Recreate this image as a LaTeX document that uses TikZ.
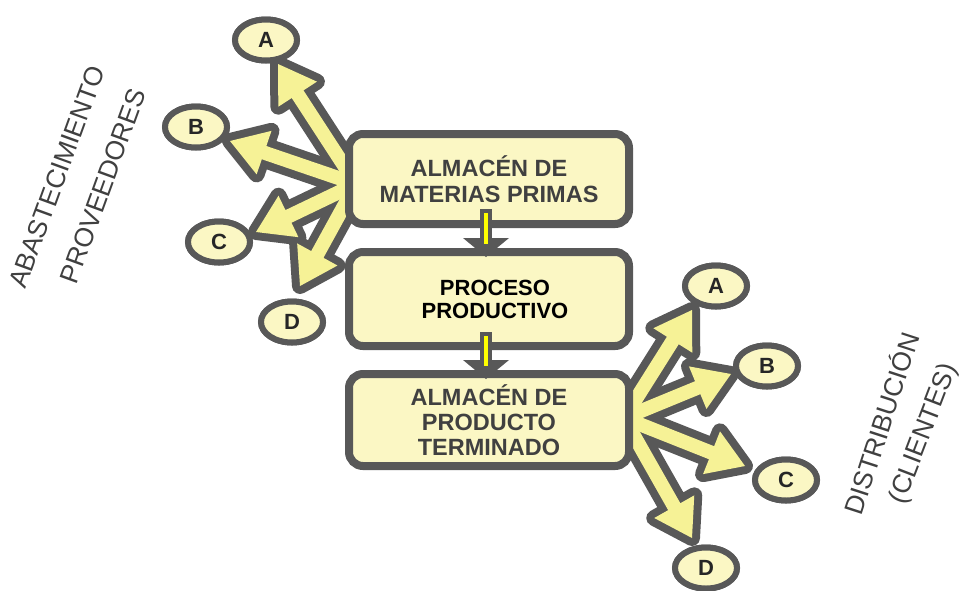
\documentclass[tikz,border=0pt]{standalone}
\usepackage{fontspec}
\setmainfont{Liberation Sans}
\usetikzlibrary{calc,shapes.geometric}
\definecolor{edge}{RGB}{88,88,88}
\definecolor{pale}{RGB}{251,247,196}
\definecolor{armfill}{RGB}{246,242,150}
\definecolor{txtgray}{RGB}{64,64,64}
\definecolor{brightyel}{RGB}{255,255,0}
\newcommand\sw{7pt}
\newcommand\hw{23pt}
\newcommand\hl{36pt}
% define arrow polygon points: #1 prefix, #2 start, #3 tip
\newcommand\armdefs[3]{%
  \coordinate (#1b) at ($(#3)!\hl!(#2)$);
  \coordinate (#1p1) at ($(#2)!\sw!90:(#3)$);
  \coordinate (#1p6) at ($(#2)!\sw!-90:(#3)$);
  \coordinate (#1p2) at ($(#1b)!\sw!90:(#3)$);
  \coordinate (#1p5) at ($(#1b)!\sw!-90:(#3)$);
  \coordinate (#1p3) at ($(#1b)!\hw!90:(#3)$);
  \coordinate (#1p4) at ($(#1b)!\hw!-90:(#3)$);
}
\newcommand\armpath[2]{(#1p1) -- (#1p2) -- (#1p3) -- (#2) -- (#1p4) -- (#1p5) -- (#1p6) -- cycle}
\tikzset{
  box/.style={draw=edge, line width=8pt, fill=pale, rounded corners=14pt,
    minimum width=280pt, align=center, font=\bfseries\fontsize{23.5}{26}\selectfont},
  oval/.style={ellipse, draw=edge, line width=6pt, fill=pale, minimum width=62pt,
    minimum height=41pt, inner sep=0pt, text=black!85, font=\bfseries\fontsize{22}{24}\selectfont},
  armline/.style={draw=edge, line width=16pt, line join=round},
  armbody/.style={fill=armfill},
  side/.style={text=txtgray, font=\fontsize{26.5}{30}\selectfont, inner sep=0pt},
  smallshaft/.style={draw=edge, line width=3.5pt, fill=brightyel},
  smallhead/.style={fill=edge}
}
\begin{document}
\begin{tikzpicture}[x=1pt,y=-1pt]
\useasboundingbox (0,0) rectangle (961,590);
% ellipses (positions)
\path
  node[oval] (la) at (266,40) {A}
  node[oval] (lb) at (196,127) {B}
  node[oval] (lc) at (219,242) {C}
  node[oval] (ld) at (292,322) {D}
  node[oval] (ra) at (716,286) {A}
  node[oval] (rb) at (767,366) {B}
  node[oval] (rc) at (786,480) {C}
  node[oval] (rd) at (706,568) {D};
% hubs and tips
\coordinate (hubL) at (356,184);
\coordinate (hubR) at (624,418);
\coordinate (tla) at (278,64);
\coordinate (tlb) at (230,141);
\coordinate (tlc) at (256,232);
\coordinate (tld) at (300,286);
\coordinate (tra) at (692,310);
\coordinate (trb) at (731,374);
\coordinate (trc) at (745,466);
\coordinate (trd) at (692,538);
\armdefs{la}{hubL}{tla}
\armdefs{lb}{hubL}{tlb}
\armdefs{lc}{hubL}{tlc}
\armdefs{ld}{hubL}{tld}
\armdefs{ra}{hubR}{tra}
\armdefs{rb}{hubR}{trb}
\armdefs{rc}{hubR}{trc}
\armdefs{rd}{hubR}{trd}
% outlines
\foreach \p/\t in {la/tla,lb/tlb,lc/tlc,ld/tld,ra/tra,rb/trb,rc/trc,rd/trd}
  \draw[armline] \armpath{\p}{\t};
% fills
\foreach \p/\t in {la/tla,lb/tlb,lc/tlc,ld/tld,ra/tra,rb/trb,rc/trc,rd/trd}
  \fill[armbody] \armpath{\p}{\t};
% redraw ellipses on top
\path
  node[oval] at (la) {A}
  node[oval] at (lb) {B}
  node[oval] at (lc) {C}
  node[oval] at (ld) {D}
  node[oval] at (ra) {A}
  node[oval] at (rb) {B}
  node[oval] at (rc) {C}
  node[oval] at (rd) {D};
% boxes
\node[box, minimum height=90pt, text=txtgray] (b1) at (489,179) {\raisebox{-3pt}{ALMAC\'EN DE}\\\raisebox{-3pt}{MATERIAS PRIMAS}};
\node[box, minimum height=94pt, text=black, font=\bfseries\fontsize{22}{23}\selectfont] (b2) at (489,299) {\hspace*{12pt}PROCESO\\\hspace*{12pt}PRODUCTIVO};
\node[box, minimum height=92pt, text=txtgray, font=\bfseries\fontsize{23.5}{25}\selectfont] (b3) at (489,420) {ALMAC\'EN DE\\PRODUCTO\\TERMINADO};
% small arrows between boxes
\coordinate (s1a) at (486,211);
\coordinate (s1b) at (486,246);
\coordinate (s2a) at (486,334);
\coordinate (s2b) at (486,368);
\foreach \a/\b in {s1a/s1b,s2a/s2b}{
  \fill[smallhead] ($(\b)+(-23,-8)$) -- ($(\b)+(23,-8)$) -- ($(\b)+(0,11)$) -- cycle;
  \draw[smallshaft] ($(\a)+(-4,0)$) rectangle ($(\b)+(4,0)$);
}
% side labels
\node[side, rotate=70] (abs) at (57,177) {ABASTECIMIENTO};
\node[side, rotate=70] (prov) at (103,186) {PROVEEDORES};
\node[side, rotate=72] (dist) at (880,423) {DISTRIBUCI\'ON};
\node[side, rotate=69] (cli) at (924,434) {(CLIENTES)};
\end{tikzpicture}
\end{document}
